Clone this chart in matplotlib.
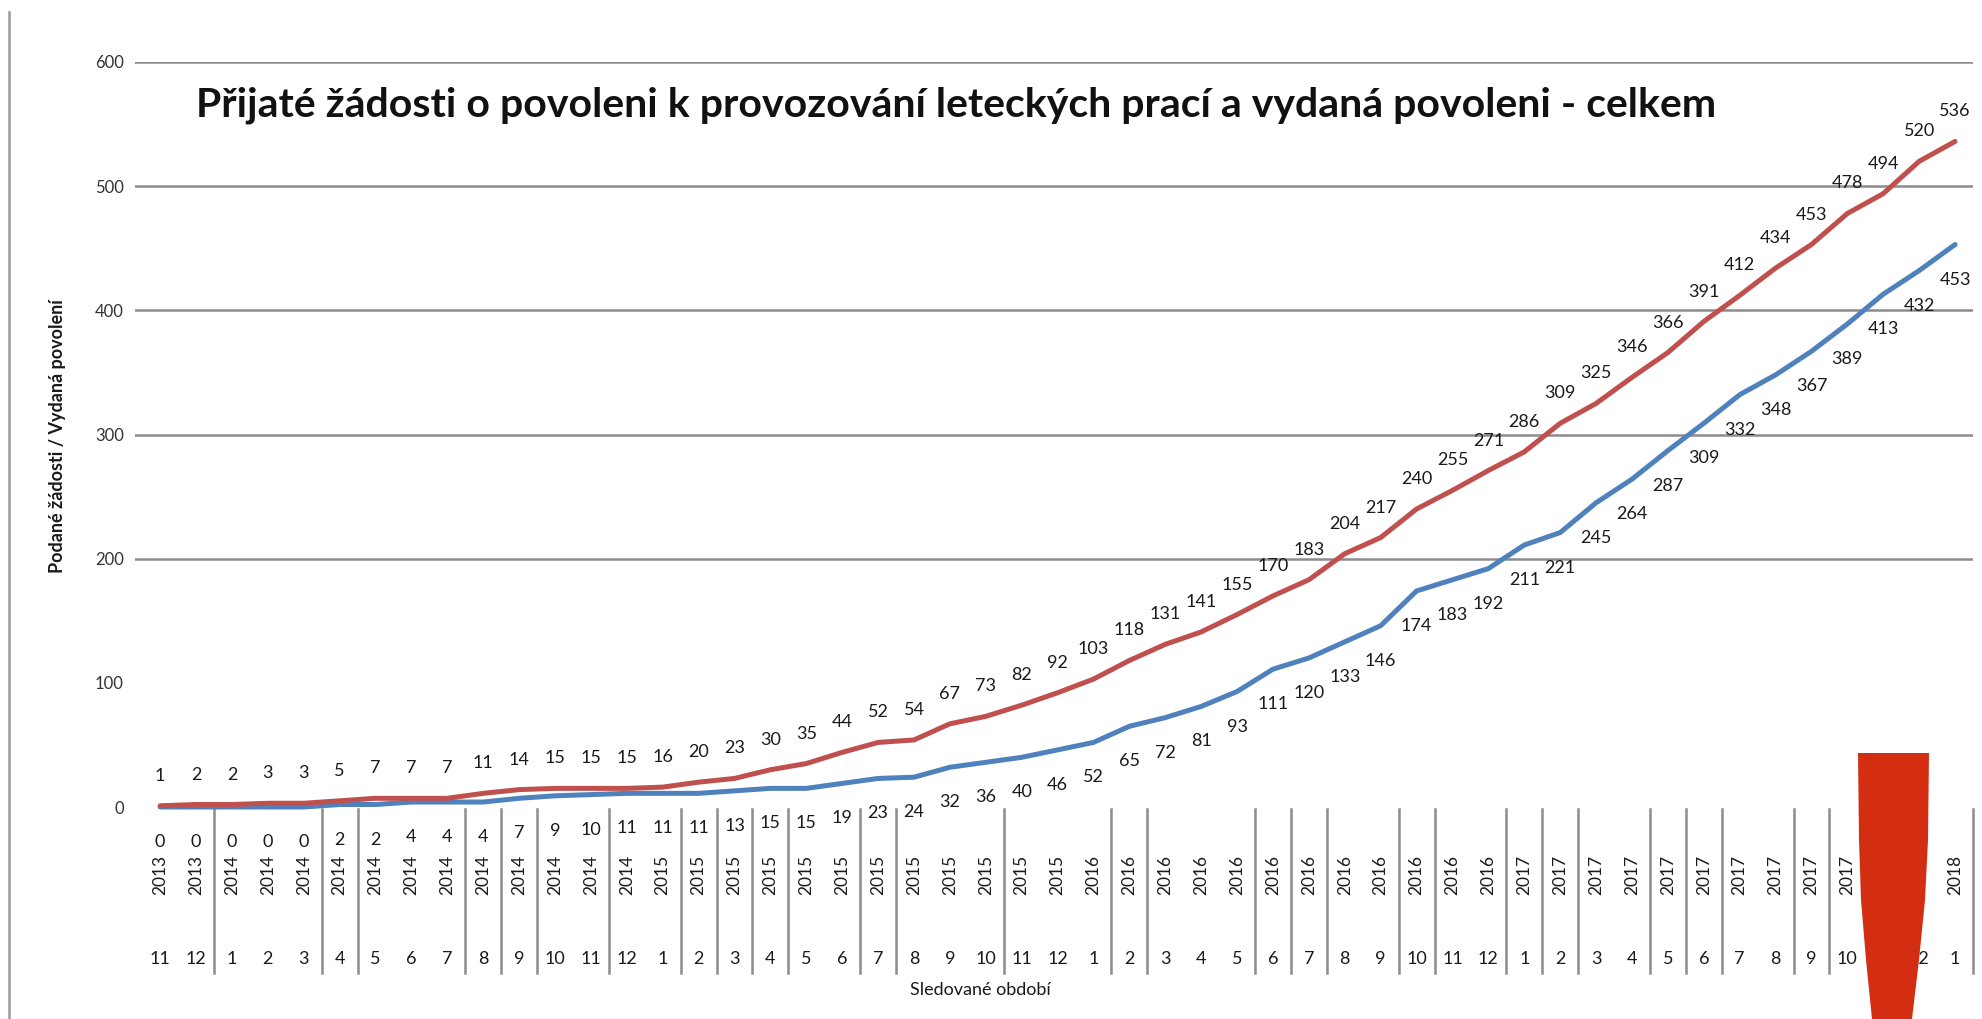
##############
#Dependencies
##############
import matplotlib
matplotlib.use('Agg')
import matplotlib.pyplot as plt
from matplotlib.lines import Line2D
from matplotlib.patches import Polygon

#################
#Data
#################
years = ['2013', '2013',
         '2014', '2014', '2014', '2014', '2014', '2014', '2014', '2014', '2014', '2014', '2014', '2014',
         '2015', '2015', '2015', '2015', '2015', '2015', '2015', '2015', '2015', '2015', '2015', '2015',
         '2016', '2016', '2016', '2016', '2016', '2016', '2016', '2016', '2016', '2016', '2016', '2016',
         '2017', '2017', '2017', '2017', '2017', '2017', '2017', '2017', '2017', '2017', '2017', '2017',
         '2018']
months = ['11', '12',
          '1', '2', '3', '4', '5', '6', '7', '8', '9', '10', '11', '12',
          '1', '2', '3', '4', '5', '6', '7', '8', '9', '10', '11', '12',
          '1', '2', '3', '4', '5', '6', '7', '8', '9', '10', '11', '12',
          '1', '2', '3', '4', '5', '6', '7', '8', '9', '10', '11', '12',
          '1']

# prijate zadosti (cervena)
prijate = [1, 2, 2, 3, 3, 5, 7, 7, 7, 11, 14, 15, 15, 15, 16, 20, 23, 30, 35, 44,
           52, 54, 67, 73, 82, 92, 103, 118, 131, 141, 155, 170, 183, 204, 217,
           240, 255, 271, 286, 309, 325, 346, 366, 391, 412, 434, 453, 478, 494,
           520, 536]
# vydana povoleni (modra)
vydana = [0, 0, 0, 0, 0, 2, 2, 4, 4, 4, 7, 9, 10, 11, 11, 11, 13, 15, 15, 19,
          23, 24, 32, 36, 40, 46, 52, 65, 72, 81, 93, 111, 120, 133, 146,
          174, 183, 192, 211, 221, 245, 264, 287, 309, 332, 348, 367, 389, 413,
          432, 453]

y_ticks = [0, 100, 200, 300, 400, 500, 600]
grid_levels = [200, 300, 400, 500, 600]
# svisle oddelovace v popiscich osy x (pred danou kategorii)
separators = [2, 5, 6, 9, 10, 11, 13, 15, 16, 17, 18, 20, 21, 24, 27, 28, 31, 32,
              33, 35, 36, 38, 39, 40, 42, 43, 44, 46, 47, 51]

title = 'Přijaté žádosti o povoleni k provozování leteckých prací a vydaná povoleni - celkem'
ylabel = 'Podané žádosti / Vydaná povolení'
xlabel = 'Sledované období'

#################
#Configurations
#################
W, H = 1982, 1019
RED = '#C0504D'
BLUE = '#4F81BD'
TXT = '#1a1a1a'
plt.rcParams['font.family'] = ['Lato', 'DejaVu Sans']


def px(x, y):
    # pixel od leveho horniho rohu -> souradnice figury
    return (x / W, 1 - y / H)


#####################
#main function
#####################
def main():
    fig = plt.figure(figsize=(W / 100, H / 100), dpi=100)
    fig.patch.set_facecolor('white')
    ax = fig.add_axes([135 / W, 212 / H, 1838 / W, 745 / H])
    xs = list(range(len(prijate)))
    ax.set_xlim(-0.7, len(prijate) - 0.5)
    ax.set_ylim(0, 600)

    for level in grid_levels:
        ax.axhline(level, color='#8c8c8c', lw=1.8, zorder=1)

    ax.plot(xs, vydana, color=BLUE, lw=3.6, clip_on=False, zorder=3,
            solid_joinstyle='round', solid_capstyle='round')
    ax.plot(xs, prijate, color=RED, lw=3.6, clip_on=False, zorder=4,
            solid_joinstyle='round', solid_capstyle='round')

    # popisky hodnot
    for i, v in enumerate(prijate):
        ax.annotate(str(v), (i, v), xytext=(0, 30), textcoords='offset pixels',
                    ha='center', va='center', fontsize=13, color=TXT,
                    annotation_clip=False)
    for i, v in enumerate(vydana):
        ax.annotate(str(v), (i, v), xytext=(0, -35), textcoords='offset pixels',
                    ha='center', va='center', fontsize=13, color=TXT,
                    annotation_clip=False)

    # osa y
    ax.set_yticks(y_ticks)
    ax.set_yticklabels([str(t) for t in y_ticks], fontsize=12, color='#333333')
    ax.tick_params(axis='y', length=0, pad=8)
    ax.set_xticks([])
    for s in ax.spines.values():
        s.set_visible(False)

    # popisky kategorii (rok otoceny, mesic pod nim)
    trans = ax.get_xaxis_transform()
    for i in xs:
        ax.text(i, -0.0913, years[i], transform=trans, rotation=90,
                ha='center', va='center', fontsize=12.5, color=TXT)
        ax.text(i, -0.204, months[i], transform=trans,
                ha='center', va='center', fontsize=13, color=TXT)
    for k in separators:
        ax.plot([k - 0.5, k - 0.5], [-0.003, -0.223], transform=trans,
                color='#8c8c8c', lw=1.8, clip_on=False, zorder=1)

    fig.text(*px(956, 105), title, ha='center', va='center',
             fontsize=29.5, fontweight='bold', color='#111111')
    fig.text(*px(57, 436), ylabel, rotation=90, ha='center', va='center',
             fontsize=13, fontweight='bold', color=TXT)
    fig.text(*px(980, 990), xlabel, ha='center', va='center',
             fontsize=13, color=TXT)

    # svisla cara vlevo (okraj snimku)
    fig.add_artist(Line2D([9 / W, 9 / W], [0, 1 - 12 / H], color='#9a9a9a', lw=1.8))

    # cerveny tvar vpravo dole
    shape = [px(1858, 753), px(1929, 753), px(1928, 840), px(1925, 900),
             px(1919, 960), px(1912, 1019), px(1872, 1019), px(1866, 960),
             px(1861, 900), px(1859, 840)]
    fig.add_artist(Polygon(shape, closed=True, transform=fig.transFigure,
                           facecolor='#D42E12', edgecolor='none', zorder=10))

    fig.savefig('out.png', dpi=100)


#############
#Execute Script
##############
if __name__ == '__main__':
    main()
